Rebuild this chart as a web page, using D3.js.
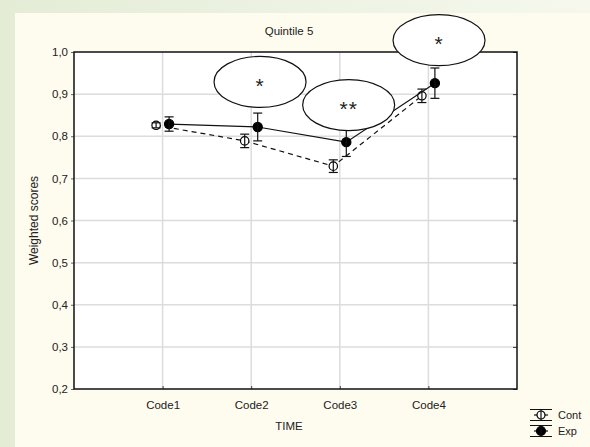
<!DOCTYPE html>
<html>
<head>
<meta charset="utf-8">
<script src="https://cdn.jsdelivr.net/npm/d3@7"></script>
<style>
  html, body { margin: 0; padding: 0; }
  svg { display: block; }
  text { font-family: "Liberation Sans", Arial, sans-serif; fill: #222; }
</style>
</head>
<body>
<svg id="chart" width="590" height="447"></svg>
<script>
// Categories and series (means with half-width of the error bars)
const categories = ["Code1", "Code2", "Code3", "Code4"];
const contValues = [0.826, 0.789, 0.729, 0.896];
const contErrors = [0.006, 0.016, 0.015, 0.016];
const expValues  = [0.829, 0.822, 0.786, 0.926];
const expErrors  = [0.017, 0.033, 0.034, 0.036];
const yTicks = [0.2, 0.3, 0.4, 0.5, 0.6, 0.7, 0.8, 0.9, 1.0];

// Significance marks: position in (category index, score) space
const marks = [
  { label: "*",  cx: 2.10, cy: 0.929 },
  { label: "**", cx: 3.10, cy: 0.874 },
  { label: "*",  cx: 4.12, cy: 1.028 }
];

const W = 590, H = 447;
const plot = { left: 74, right: 517, top: 52, bottom: 389 };
const svg = d3.select("#chart");

// Backdrop: green-tinted frame with a cream panel
const defs = svg.append("defs");
const grad = defs.append("linearGradient").attr("id", "bg").attr("x1", 0).attr("x2", 1).attr("y1", 0).attr("y2", 0);
grad.append("stop").attr("offset", "0%").attr("stop-color", "#e4ecd6");
grad.append("stop").attr("offset", "100%").attr("stop-color", "#f6f8ee");
svg.append("rect").attr("width", W).attr("height", H).attr("fill", "url(#bg)");
svg.append("rect").attr("x", 15).attr("y", 13).attr("width", W - 15).attr("height", H - 13).attr("fill", "#fefbef");

const x = d3.scaleLinear().domain([0, categories.length + 1]).range([plot.left, plot.right]);
const y = d3.scaleLinear().domain([0.2, 1.0]).range([plot.bottom, plot.top]);
const fmt = v => d3.format(".1f")(v).replace(".", ",");

// Plot area
svg.append("rect")
  .attr("x", plot.left).attr("y", plot.top)
  .attr("width", plot.right - plot.left).attr("height", plot.bottom - plot.top)
  .attr("fill", "#fff");

// Grid
const grid = svg.append("g").attr("stroke", "#dcdcdc").attr("stroke-width", 1.5);
grid.selectAll(".hg").data(yTicks.slice(1, -1)).join("line")
  .attr("x1", plot.left).attr("x2", plot.right)
  .attr("y1", d => y(d)).attr("y2", d => y(d));
grid.selectAll(".vg").data(categories).join("line")
  .attr("x1", (d, i) => x(i + 1)).attr("x2", (d, i) => x(i + 1))
  .attr("y1", plot.top).attr("y2", plot.bottom);

// Axes
const yAxis = d3.axisLeft(y).tickValues(yTicks).tickFormat(fmt).tickSize(3).tickPadding(3);
const gy = svg.append("g").attr("transform", `translate(${plot.left},0)`).call(yAxis);
gy.select(".domain").remove();
gy.selectAll(".tick line").attr("stroke", "#666");
gy.selectAll("text").attr("font-size", 11.5).attr("fill", "#222").attr("font-family", "Liberation Sans, Arial, sans-serif");

const yAxisR = d3.axisLeft(y).tickValues(yTicks).tickFormat("").tickSize(4);
const gyr = svg.append("g").attr("transform", `translate(${plot.right},0)`).call(yAxisR);
gyr.select(".domain").remove();
gyr.selectAll(".tick line").attr("stroke", "#333");

const xAxis = d3.axisBottom(x).tickValues(categories.map((d, i) => i + 1))
  .tickFormat((d, i) => categories[i]).tickSize(-3).tickPadding(12);
const gx = svg.append("g").attr("transform", `translate(0,${plot.bottom})`).call(xAxis);
gx.select(".domain").remove();
gx.selectAll(".tick line").attr("stroke", "#444");
gx.selectAll("text").attr("font-size", 11.5).attr("fill", "#222").attr("font-family", "Liberation Sans, Arial, sans-serif");

// Frame
svg.append("rect")
  .attr("x", plot.left).attr("y", plot.top)
  .attr("width", plot.right - plot.left).attr("height", plot.bottom - plot.top)
  .attr("fill", "none").attr("stroke", "#111").attr("stroke-width", 1.5);

// Titles
svg.append("text").attr("x", 289).attr("y", 35).attr("text-anchor", "middle")
  .attr("font-size", 11.5).text("Quintile 5");
svg.append("text").attr("x", 289).attr("y", 430).attr("text-anchor", "middle")
  .attr("font-size", 11.5).text("TIME");
svg.append("text").attr("transform", `translate(38,${(plot.top + plot.bottom) / 2}) rotate(-90)`)
  .attr("text-anchor", "middle").attr("font-size", 12).text("Weighted scores");

// Series
const series = [
  { name: "Cont", values: contValues, errors: contErrors, dx: -6.5, dash: "5,4", filled: false },
  { name: "Exp",  values: expValues,  errors: expErrors,  dx: 6.5,  dash: null,  filled: true }
];
const capW = 4.5;

series.forEach(s => {
  const pts = s.values.map((v, i) => ({ px: x(i + 1) + s.dx, v, e: s.errors[i] }));
  const line = d3.line().x(d => d.px).y(d => y(d.v));
  svg.append("path").datum(pts).attr("d", line)
    .attr("fill", "none").attr("stroke", "#111").attr("stroke-width", 1.2)
    .attr("stroke-dasharray", s.dash);
  const g = svg.append("g");
  const grp = g.selectAll("g").data(pts).join("g");
  grp.append("circle").attr("cx", d => d.px).attr("cy", d => y(d.v)).attr("r", s.filled ? 4.6 : 4.2)
    .attr("fill", s.filled ? "#000" : "#fff").attr("stroke", "#000").attr("stroke-width", 1.2);
  grp.append("line").attr("x1", d => d.px).attr("x2", d => d.px)
    .attr("y1", d => y(d.v - d.e)).attr("y2", d => y(d.v + d.e))
    .attr("stroke", "#111").attr("stroke-width", 1.2);
  [-1, 1].forEach(sign => {
    grp.append("line").attr("x1", d => d.px - capW).attr("x2", d => d.px + capW)
      .attr("y1", d => y(d.v + sign * d.e)).attr("y2", d => y(d.v + sign * d.e))
      .attr("stroke", "#111").attr("stroke-width", 1.2);
  });
});

// Significance ellipses
const mg = svg.selectAll(".mark").data(marks).join("g");
mg.append("ellipse").attr("cx", d => x(d.cx)).attr("cy", d => y(d.cy))
  .attr("rx", 46).attr("ry", 25.5).attr("fill", "#fff").attr("stroke", "#111").attr("stroke-width", 1.2);
mg.append("text").attr("x", d => x(d.cx)).attr("y", d => y(d.cy) + 11)
  .attr("text-anchor", "middle").attr("font-size", 21).attr("font-family", "DejaVu Serif, serif")
  .attr("letter-spacing", 1).attr("fill", "#111").text(d => d.label);

// Legend
const lg = svg.append("g").attr("transform", "translate(541,0)");
series.forEach((s, i) => {
  const cy = 415 + i * 16;
  const row = lg.append("g");
  row.append("line").attr("x1", -11).attr("x2", 11).attr("y1", cy - 5.5).attr("y2", cy - 5.5).attr("stroke", "#111");
  row.append("line").attr("x1", -11).attr("x2", 11).attr("y1", cy + 5.5).attr("y2", cy + 5.5).attr("stroke", "#111");
  row.append("line").attr("x1", -7).attr("x2", 7).attr("y1", cy).attr("y2", cy).attr("stroke", "#111").attr("stroke-width", 1.2);
  row.append("circle").attr("cx", 0).attr("cy", cy).attr("r", s.filled ? 4.5 : 4)
    .attr("fill", s.filled ? "#000" : "#fff").attr("stroke", "#000").attr("stroke-width", 1.2);
  row.append("line").attr("x1", 0).attr("x2", 0).attr("y1", cy - 5.5).attr("y2", cy + 5.5).attr("stroke", "#111").attr("stroke-width", 1.2);
  row.append("text").attr("x", 17).attr("y", cy + 4).attr("font-size", 11).text(s.name);
});
</script>
</body>
</html>
